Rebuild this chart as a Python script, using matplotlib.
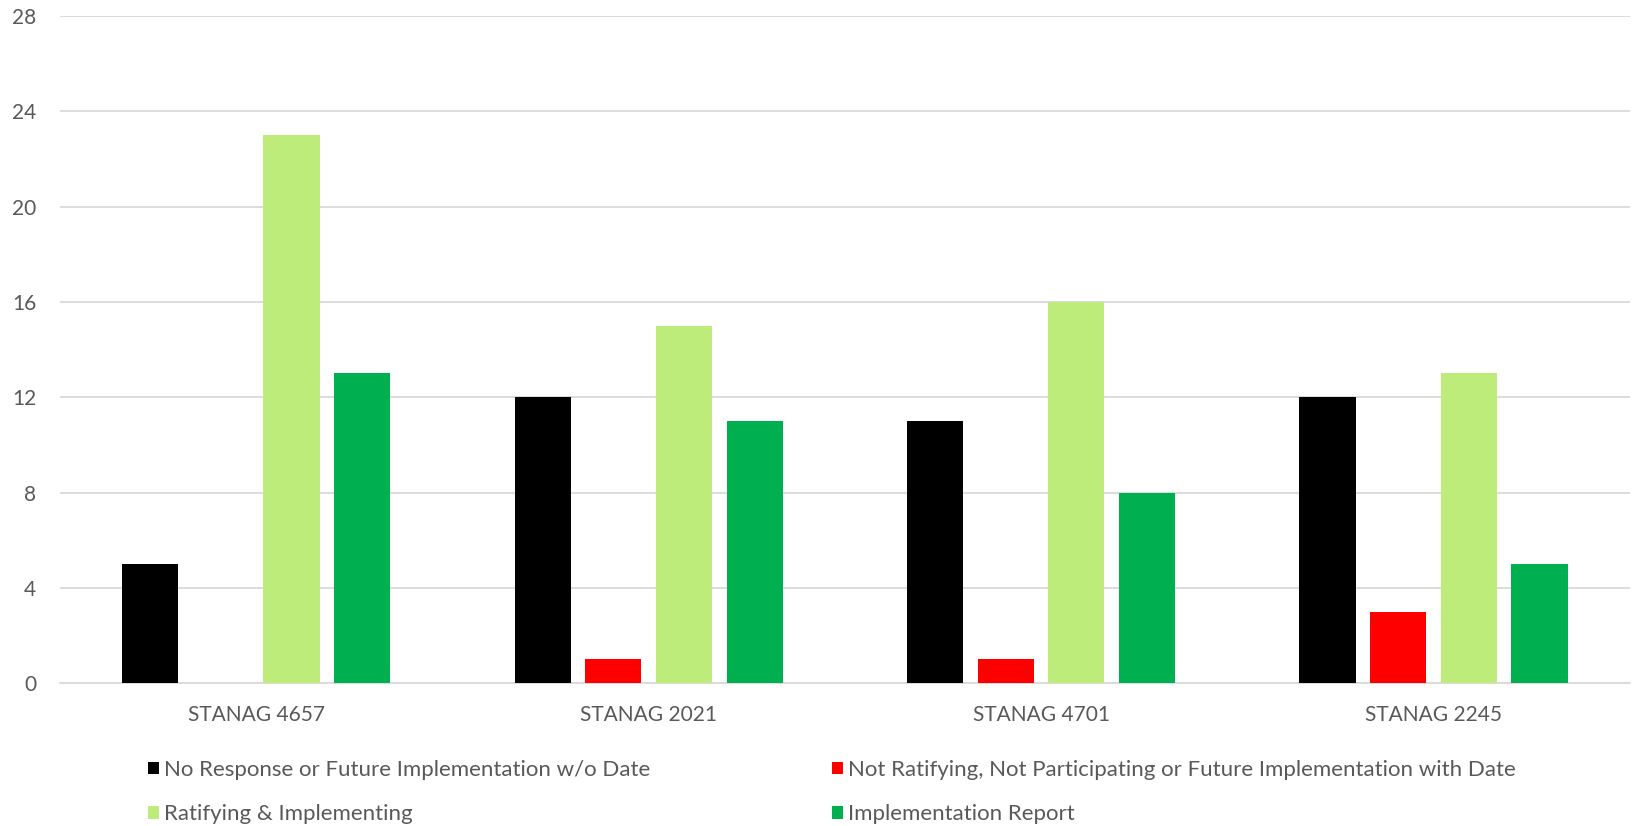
#! /usr/bin/env python3
# STANAG Ratifizierung / Implementierung - gruppiertes Balkendiagramm

import numpy as np
import matplotlib.pyplot as plt

# Daten
kategorien = ["STANAG 4657", "STANAG 2021", "STANAG 4701", "STANAG 2245"]
serien_namen = [
    "No Response or Future Implementation w/o Date",
    "Not Ratifying, Not Participating or Future Implementation with Date",
    "Ratifying & Implementing",
    "Implementation Report",
]
no_response = [5, 12, 11, 12]
not_ratifying = [0, 1, 1, 3]
ratifying = [23, 15, 16, 13]
impl_report = [13, 11, 8, 5]
y_ticks = [0, 4, 8, 12, 16, 20, 24, 28]

werte = [no_response, not_ratifying, ratifying, impl_report]
farben = ["#000000", "#FF0000", "#BDEC7A", "#00B050"]
text_farbe = "#595959"

plt.rcParams['font.family'] = ['Lato', 'DejaVu Sans']

fig = plt.figure(figsize=(16.33, 8.26), dpi=100)
ax = fig.add_axes([0.0367, 0.173, 0.9613, 0.8075])

x = np.arange(len(kategorien))
breite = 0.143
abstand = 0.180
balken = []
for i, (vals, farbe) in enumerate(zip(werte, farben)):
    b = ax.bar(x + (i - 1.5) * abstand, vals, breite, color=farbe,
               label=serien_namen[i], zorder=3)
    balken.append(b)

ax.set_xlim(-0.5, len(kategorien) - 0.5)
ax.set_ylim(0, 28)
ax.set_yticks(y_ticks)
ax.set_xticks(x)
ax.set_xticklabels(kategorien)
ax.grid(axis='y', color="#D9D9D9", linewidth=1.3, zorder=0)
ax.tick_params(axis='both', length=0, labelsize=15, colors=text_farbe)
ax.tick_params(axis='y', pad=17)
ax.tick_params(axis='x', pad=16)
for s in ['top', 'right', 'left']:
    ax.spines[s].set_visible(False)
ax.spines['bottom'].set_color("#D9D9D9")
ax.spines['bottom'].set_linewidth(1.3)

# Legende: Reihenfolge so, dass Zeilen 0/1 und 2/3 nebeneinander stehen
reihenfolge = [0, 2, 1, 3]
leg = fig.legend([balken[i] for i in reihenfolge],
                 [serien_namen[i] for i in reihenfolge],
                 ncol=2, loc='upper left',
                 frameon=False, fontsize=16, handlelength=0.5,
                 handleheight=0.5, handletextpad=0.25, labelspacing=1.1,
                 columnspacing=8.15, borderaxespad=0)
leg.set_bbox_to_anchor((0.085, 0.091), transform=fig.transFigure)
for t in leg.get_texts():
    t.set_color(text_farbe)

fig.savefig("out.png", dpi=100)
